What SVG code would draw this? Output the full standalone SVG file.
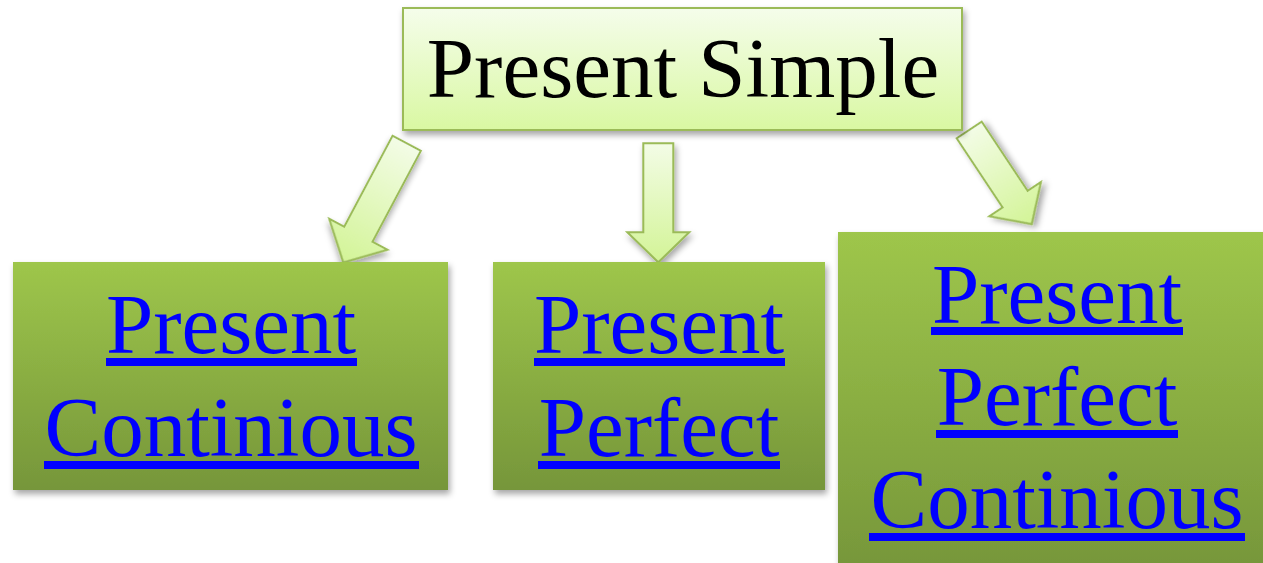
<svg xmlns="http://www.w3.org/2000/svg" width="1263" height="563" viewBox="0 0 1263 563">
<defs>
<linearGradient id="gTop" x1="0" y1="0" x2="0" y2="1">
<stop offset="0" stop-color="#f5fdeb"/>
<stop offset="1" stop-color="#d9f8a2"/>
</linearGradient>
<linearGradient id="gBox" x1="0" y1="0" x2="0" y2="1">
<stop offset="0" stop-color="#9ec64b"/>
<stop offset="1" stop-color="#76963a"/>
</linearGradient>
<linearGradient id="gArrow" x1="0" y1="0" x2="0" y2="1">
<stop offset="0" stop-color="#f3fce6"/>
<stop offset="1" stop-color="#d3f497"/>
</linearGradient>
<filter id="sh" x="-10%" y="-10%" width="125%" height="125%">
<feDropShadow dx="2" dy="4" stdDeviation="3" flood-color="#000" flood-opacity="0.35"/>
</filter>
</defs>
<style>
.top{fill:url(#gTop);stroke:#9bbb59;stroke-width:2;filter:url(#sh)}
.box{fill:url(#gBox);filter:url(#sh)}
.arr{fill:url(#gArrow);stroke:#9bbb59;stroke-width:2;filter:url(#sh)}
text{font-family:'Liberation Serif','DejaVu Serif',serif;font-size:85px;text-anchor:middle}
.blk{fill:#000}
.lnk{fill:#0000ff}
.ul{fill:#0000ff}
</style>
<g id="connectors">
<g transform="translate(406.7,143.3) rotate(28)"><polygon class="arr" points="-16,0 16,0 16,103 33,103 0,135 -33,103 -16,103"/></g>
<g transform="translate(658.3,143.3)"><polygon class="arr" points="-15,0 15,0 15,89 31,89 0,119 -31,89 -15,89"/></g>
<g transform="translate(969.2,130) rotate(-33.6)"><polygon class="arr" points="-15,0 15,0 15,83 31,83 0,113 -31,83 -15,83"/></g>
</g>
<g id="node-present-simple">
<rect class="top" x="403" y="8" width="559" height="122"/>
<text class="blk" x="683" y="97" font-family="Liberation Serif, serif">Present Simple</text>
</g>
<g id="node-present-continious">
<rect class="box" x="13" y="262" width="435" height="228"/>
<text class="lnk" x="231" y="353" font-family="Liberation Serif, serif">Present</text>
<rect class="ul" x="106" y="358" width="251" height="8"/>
<text class="lnk" x="231" y="456" font-family="Liberation Serif, serif">Continious</text>
<rect class="ul" x="44" y="461" width="375" height="8"/>
</g>
<g id="node-present-perfect">
<rect class="box" x="493" y="262" width="332" height="228"/>
<text class="lnk" x="659" y="353" font-family="Liberation Serif, serif">Present</text>
<rect class="ul" x="534" y="358" width="251" height="8"/>
<text class="lnk" x="659" y="456" font-family="Liberation Serif, serif">Perfect</text>
<rect class="ul" x="538" y="461" width="242" height="8"/>
</g>
<g id="node-present-perfect-continious">
<rect class="box" x="838" y="232" width="440" height="340"/>
<text class="lnk" x="1057" y="323" font-family="Liberation Serif, serif">Present</text>
<rect class="ul" x="931" y="327" width="252" height="8"/>
<text class="lnk" x="1057" y="425" font-family="Liberation Serif, serif">Perfect</text>
<rect class="ul" x="936" y="430" width="242" height="8"/>
<text class="lnk" x="1057" y="528" font-family="Liberation Serif, serif">Continious</text>
<rect class="ul" x="869" y="533" width="376" height="8"/>
</g>
</svg>
